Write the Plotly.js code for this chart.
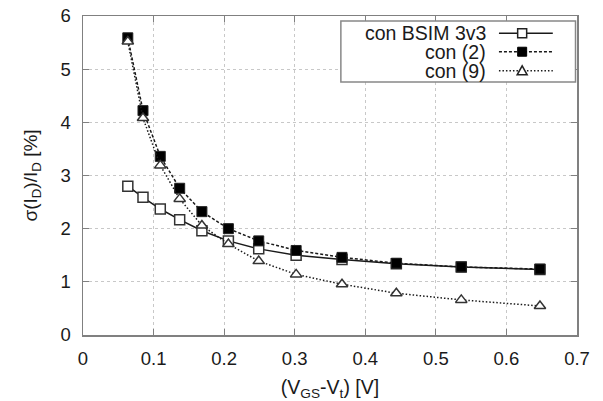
<!DOCTYPE html>
<html>
<head>
<meta charset="utf-8">
<script src="https://cdn.plot.ly/plotly-3.0.1.min.js"></script>
<style>html,body{margin:0;padding:0;background:#fff;}#chart{width:603px;height:401px;}</style>
</head>
<body>
<div id="chart"></div>
<script>
// Data
const vov = [0.0635, 0.085, 0.1095, 0.137, 0.1685, 0.206, 0.249, 0.302, 0.367, 0.444, 0.536, 0.6475];
const sigmaBsim = [2.80, 2.59, 2.37, 2.17, 1.96, 1.77, 1.62, 1.50, 1.42, 1.34, 1.28, 1.23];
const sigmaEq2  = [5.59, 4.22, 3.36, 2.76, 2.32, 2.00, 1.77, 1.59, 1.46, 1.35, 1.28, 1.24];
const sigmaEq9  = [5.52, 4.08, 3.19, 2.56, 2.06, 1.71, 1.39, 1.14, 0.955, 0.785, 0.66, 0.546];
const seriesNames = ["con BSIM 3v3", "con (2)", "con (9)"];
const xTicks = [0, 0.1, 0.2, 0.3, 0.4, 0.5, 0.6, 0.7];
const yTicks = [0, 1, 2, 3, 4, 5, 6];

const font = "Liberation Sans, Arial, Helvetica, sans-serif";
const dark = "#1a1a1a";

const traces = [
  {x: vov, y: sigmaBsim, name: seriesNames[0], mode: "lines+markers",
   line: {color: dark, width: 1.5},
   marker: {symbol: "square", size: 10, color: "#fff", line: {color: "#333", width: 1.5}}},
  {x: vov, y: sigmaEq2, name: seriesNames[1], mode: "lines+markers",
   line: {color: dark, width: 1.5, dash: "3px,2px"},
   marker: {symbol: "square", size: 10, color: "#000", line: {color: "#222", width: 1}}},
  {x: vov, y: sigmaEq9, name: seriesNames[2], mode: "lines+markers",
   line: {color: dark, width: 1.5, dash: "1.5px,2px"},
   marker: {symbol: "triangle-up", size: 10, color: "#fff", line: {color: "#333", width: 1.5}}}
];

// Custom legend (text on the left, sample on the right, as in the reference)
const rowsY = [0.946, 0.888, 0.828];
const shapes = [
  {type: "rect", xref: "paper", yref: "paper", x0: 0.522, x1: 0.997, y0: 0.793, y1: 0.984,
   line: {color: "#888", width: 1.5}, fillcolor: "#fff", layer: "above"}
];
const dashes = ["solid", "3px,2px", "1.5px,2px"];
rowsY.forEach((yy, i) => {
  shapes.push({type: "line", xref: "paper", yref: "paper", x0: 0.842, x1: 0.951, y0: yy, y1: yy,
    line: {color: dark, width: 1.5, dash: dashes[i]}, layer: "above"});
});
// legend sample markers (pixel sized, anchored in paper space)
shapes.push({type: "rect", xref: "paper", yref: "paper", xsizemode: "pixel", ysizemode: "pixel",
  xanchor: 0.889, yanchor: rowsY[0], x0: -4.5, x1: 4.5, y0: -4.5, y1: 4.5,
  fillcolor: "#fff", line: {color: "#222", width: 1.5}, layer: "above"});
shapes.push({type: "rect", xref: "paper", yref: "paper", xsizemode: "pixel", ysizemode: "pixel",
  xanchor: 0.889, yanchor: rowsY[1], x0: -4.5, x1: 4.5, y0: -4.5, y1: 4.5,
  fillcolor: "#000", line: {color: "#000", width: 1}, layer: "above"});
shapes.push({type: "path", xref: "paper", yref: "paper", xsizemode: "pixel", ysizemode: "pixel",
  xanchor: 0.889, yanchor: rowsY[2], path: "M -5 -4 L 5 -4 L 0 5 Z",
  fillcolor: "#fff", line: {color: "#222", width: 1.5}, layer: "above"});

const annotations = rowsY.map((yy, i) => ({
  xref: "paper", yref: "paper", x: 0.818, y: yy, xanchor: "right", yanchor: "middle",
  text: seriesNames[i], showarrow: false, borderpad: 0,
  font: {family: font, size: 19.5, color: dark}
}));

const axisCommon = {
  showline: true, linecolor: "#808080", linewidth: 1.5, mirror: "ticks",
  ticks: "inside", ticklen: 6, tickcolor: "#808080", tickwidth: 1,
  showgrid: true, gridcolor: "#c8c8c8", griddash: "dot", gridwidth: 1,
  zeroline: false, tickfont: {family: font, size: 18.5, color: dark}
};

const layout = {
  width: 603, height: 401,
  margin: {l: 83, r: 26, t: 16, b: 66},
  paper_bgcolor: "#fff", plot_bgcolor: "#fff",
  showlegend: false,
  xaxis: Object.assign({}, axisCommon, {
    range: [0, 0.7], tickvals: xTicks, ticktext: xTicks.map(String), ticklabelstandoff: 6,
    title: {text: "(V<sub>GS</sub>-V<sub>t</sub>) [V]", font: {family: font, size: 19.5, color: dark}, standoff: 14}
  }),
  yaxis: Object.assign({}, axisCommon, {
    range: [0, 6], tickvals: yTicks, ticktext: yTicks.map(String), ticklabelstandoff: 7,
    title: {text: "σ(I<sub>D</sub>)/I<sub>D</sub> [%]", font: {family: font, size: 19, color: dark}, standoff: 18}
  }),
  shapes: shapes,
  annotations: annotations
};

Plotly.newPlot("chart", traces, layout, {staticPlot: true, displayModeBar: false});
</script>
</body>
</html>
